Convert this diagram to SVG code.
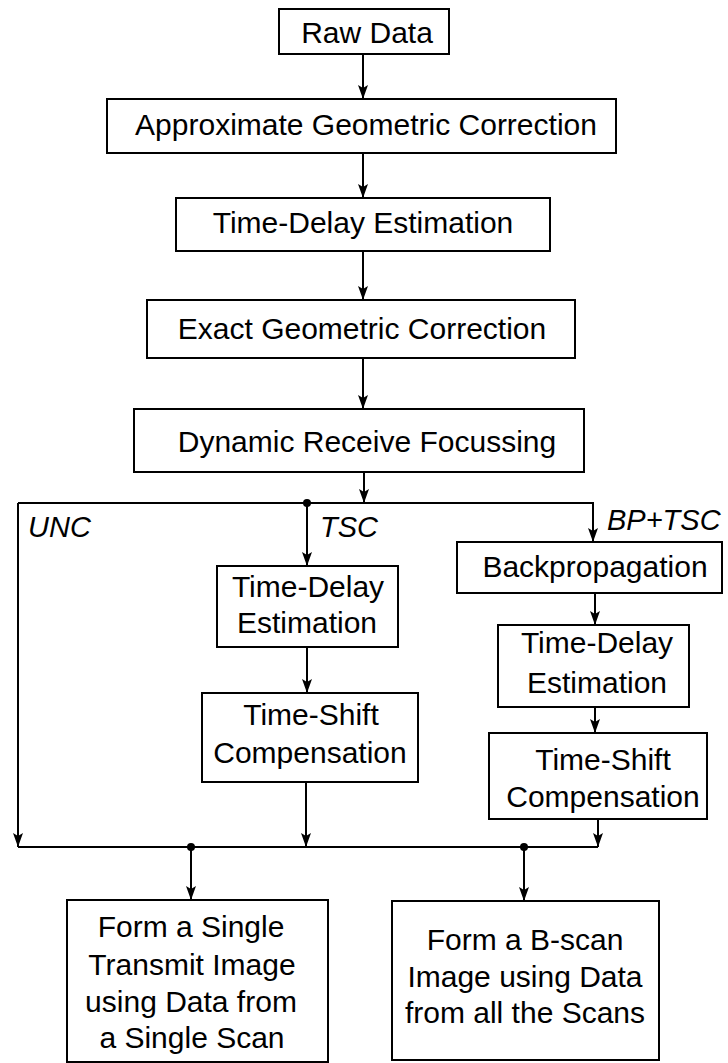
<svg xmlns="http://www.w3.org/2000/svg" width="728" height="1063" viewBox="0 0 728 1063">
<style>
.box{fill:#fff;stroke:#000;stroke-width:2}
.t{font-family:"Liberation Sans",Arial,sans-serif;font-size:30px;fill:#000;text-anchor:middle}
.lbl{font-family:"Liberation Sans",Arial,sans-serif;font-size:29px;font-style:italic;fill:#000}
.c{fill:none;stroke:#000;stroke-width:2}
.a{marker-end:url(#ah)}
</style>
<defs>
<marker id="ah" viewBox="0 0 10 14" refX="5" refY="14" markerWidth="10" markerHeight="14" orient="0" markerUnits="userSpaceOnUse">
<path d="M0,0 L5,14 L10,0 L5,3 z" fill="#000"/>
</marker>
</defs>
<rect width="728" height="1063" fill="#fff"/>
<g id="connectors">
<line class="c a" x1="363" y1="54" x2="363" y2="99"/>
<line class="c a" x1="363" y1="153" x2="363" y2="198"/>
<line class="c a" x1="363" y1="251" x2="363" y2="300"/>
<line class="c a" x1="363" y1="358" x2="363" y2="409"/>
<line class="c a" x1="364" y1="472" x2="364" y2="503"/>
<path class="c a" d="M18,503 L593,503 L593,542"/>
<line class="c a" x1="18" y1="503" x2="18" y2="847"/>
<line class="c a" x1="307" y1="503" x2="307" y2="566"/>
<line class="c a" x1="307" y1="647" x2="307" y2="693"/>
<line class="c a" x1="306" y1="782" x2="306" y2="847"/>
<line class="c a" x1="595" y1="593" x2="595" y2="625"/>
<line class="c a" x1="595" y1="707" x2="595" y2="733"/>
<line class="c a" x1="598" y1="819" x2="598" y2="847"/>
<line class="c" x1="18" y1="847" x2="598" y2="847"/>
<line class="c a" x1="191" y1="847" x2="191" y2="900"/>
<line class="c a" x1="524" y1="847" x2="524" y2="901"/>
<circle cx="307" cy="503" r="4" fill="#000"/>
<circle cx="191" cy="847" r="4" fill="#000"/>
<circle cx="524" cy="847" r="4" fill="#000"/>
<text class="lbl" x="28" y="537">UNC</text>
<text class="lbl" x="320" y="537">TSC</text>
<text class="lbl" x="607" y="530">BP+TSC</text>
</g>
<g id="raw"><rect class="box" x="279" y="9" width="170" height="45"/><text class="t" x="367" y="43">Raw Data</text></g>
<g id="approx"><rect class="box" x="107" y="99" width="509" height="54"/><text class="t" x="366" y="135">Approximate Geometric Correction</text></g>
<g id="tde1"><rect class="box" x="176" y="198" width="374" height="53"/><text class="t" x="363" y="233">Time-Delay Estimation</text></g>
<g id="exact"><rect class="box" x="147" y="300" width="428" height="58"/><text class="t" x="362" y="339">Exact Geometric Correction</text></g>
<g id="dyn"><rect class="box" x="134" y="409" width="450" height="63"/><text class="t" x="367" y="452">Dynamic Receive Focussing</text></g>
<g id="tde2"><rect class="box" x="217" y="566" width="181" height="81"/><text class="t" x="308" y="597">Time-Delay</text><text class="t" x="307" y="633">Estimation</text></g>
<g id="tsc2"><rect class="box" x="202" y="693" width="216" height="89"/><text class="t" x="311" y="725">Time-Shift</text><text class="t" x="310" y="763">Compensation</text></g>
<g id="bp"><rect class="box" x="457" y="542" width="265" height="51"/><text class="t" x="595" y="577">Backpropagation</text></g>
<g id="tde3"><rect class="box" x="498" y="625" width="191" height="82"/><text class="t" x="597" y="653">Time-Delay</text><text class="t" x="597" y="693">Estimation</text></g>
<g id="tsc3"><rect class="box" x="489" y="733" width="218" height="86"/><text class="t" x="603" y="770">Time-Shift</text><text class="t" x="603" y="807">Compensation</text></g>
<g id="single"><rect class="box" x="67" y="900" width="261" height="162"/><text class="t" x="191" y="937">Form a Single</text><text class="t" x="192" y="975">Transmit Image</text><text class="t" x="191" y="1012">using Data from</text><text class="t" x="192" y="1048">a Single Scan</text></g>
<g id="bscan"><rect class="box" x="392" y="901" width="267" height="159"/><text class="t" x="525" y="950">Form a B-scan</text><text class="t" x="525" y="987">Image using Data</text><text class="t" x="525" y="1023">from all the Scans</text></g>
</svg>
